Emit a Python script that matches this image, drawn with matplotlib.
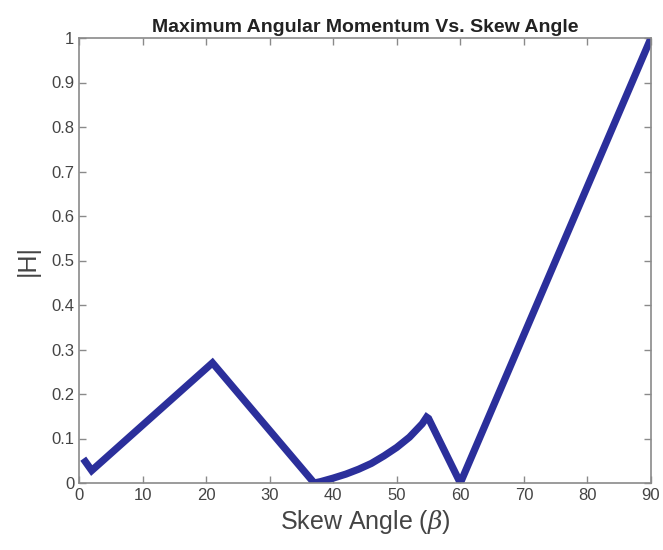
import matplotlib
matplotlib.use('Agg')
import matplotlib.pyplot as plt

# skew angle (deg) and normalised max angular momentum
beta = [1, 2, 21, 37, 38, 40, 42, 44, 46, 48, 50, 52, 54, 54.7, 55, 60, 90]
H = [0.048, 0.028, 0.27, 0.0, 0.003, 0.011, 0.020, 0.031, 0.044, 0.061, 0.080, 0.103, 0.133, 0.148, 0.145, 0.0, 1.0]
xticks = list(range(0, 91, 10))
yticks = [0, 0.1, 0.2, 0.3, 0.4, 0.5, 0.6, 0.7, 0.8, 0.9, 1]

plt.rcParams['font.family'] = ['Liberation Sans', 'DejaVu Sans']
plt.rcParams['mathtext.fontset'] = 'dejavuserif'

fig = plt.figure(figsize=(6.63, 5.5), dpi=100)
ax = fig.add_axes([79 / 663, 1 - 483 / 550, 572 / 663, 445 / 550])

ax.plot(beta, H, color='#2b2f9b', linewidth=5.2, solid_joinstyle='miter')

ax.set_xlim(0, 90)
ax.set_ylim(0, 1)
ax.set_xticks(xticks)
ax.set_yticks(yticks)
ax.set_yticklabels([f'{v:g}' for v in yticks])
ax.tick_params(direction='in', top=True, right=True, length=5, width=1,
               color='#8a8a8a', labelcolor='#444444', labelsize=12)
for s in ax.spines.values():
    s.set_color('#8a8a8a')
    s.set_linewidth(1.2)

ax.set_title('Maximum Angular Momentum Vs. Skew Angle', fontsize=14,
             fontweight='bold', color='#222222', pad=4)
ax.set_xlabel(r'Skew Angle ($\beta$)', fontsize=18, color='#444444', labelpad=4)
ax.set_ylabel('|H|', fontsize=18, color='#444444', labelpad=8)

fig.savefig('out.png', dpi=100)
